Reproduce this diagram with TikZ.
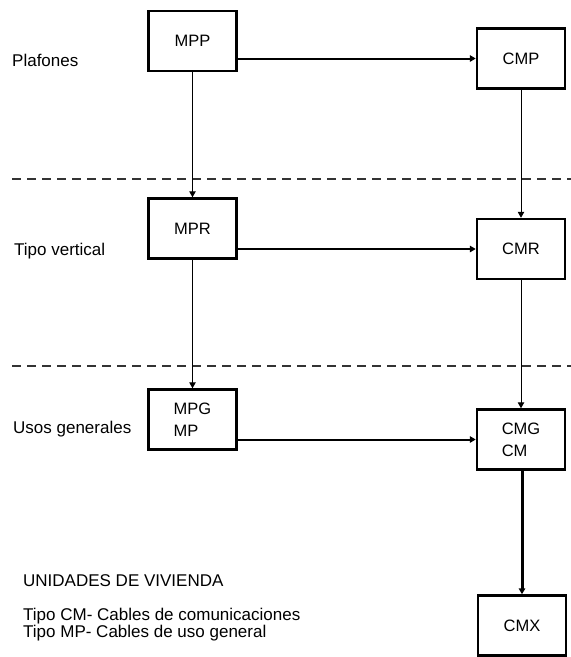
\documentclass[tikz,border=0pt]{standalone}
\usepackage{fontspec}
\setmainfont{Liberation Sans}
\usepackage{tikz}
\usetikzlibrary{arrows.meta}
\usetikzlibrary{positioning}

\tikzset{
  caja/.style={draw, line width=2.5pt, minimum width=88pt, minimum height=60pt, align=left, font=\fontsize{16.5}{22}\selectfont},
  rotulo/.style={anchor=base west, inner sep=0pt, font=\fontsize{17}{20}\selectfont},
  flecha/.style={-{Triangle[length=6pt,width=6.5pt]}},
  separa/.style={line width=1.5pt, black!80, dash pattern=on 9pt off 6pt}
}

\begin{document}
\begin{tikzpicture}[x=1pt,y=-1pt]
          \useasboundingbox (0,0) rectangle (571,657);
          \draw[separa] (12,179) -- (571,179);
          \draw[separa] (12,366) -- (571,366);
          \node[rotulo] (lbl0) at (12,66.5){Plafones};
          \node[rotulo] (lbl1) at (14,255){Tipo vertical};
          \node[rotulo] (lbl2) at (13,433){Usos generales};
          \node[rotulo] (lbl3) at (23,586.5){UNIDADES DE VIVIENDA};
          \node[rotulo] (lbl4) at (23,620){Tipo CM- Cables de comunicaciones};
          \node[rotulo] (lbl5) at (23,637.5){Tipo MP- Cables de uso general};
          \node[caja] (mpp) at (192.5,41){MPP};
          \node[caja] (cmp) at (521,58.5){CMP};
          \node[caja] (mpr) at (192.5,228.5){MPR};
          \node[caja] (cmr) at (521,249){CMR};
          \node[caja] (mpg) at (192.5,419.5){MPG\\MP};
          \node[caja] (cmg) at (521,439.5){CMG\\CM};
          \node[caja] (cmx) at (522,625.5){CMX};
          \draw[flecha, line width=2pt](mpp.east |- cmp.west) -- (cmp.west);
          \draw[flecha, line width=2pt](mpr.east |- cmr.west) -- (cmr.west);
          \draw[flecha, line width=2pt](mpg.east |- cmg.west) -- (cmg.west);
          \draw[flecha, line width=1pt](mpp.south) -- (mpr.north);
          \draw[flecha, line width=1pt](mpr.south) -- (mpg.north);
          \draw[flecha, line width=1pt](cmp.south) -- (cmr.north);
          \draw[flecha, line width=1pt](cmr.south) -- (cmg.north);
          \draw[flecha, line width=3pt](cmx.north |- cmg.south) -- (cmx.north);
        \end{tikzpicture}
\end{document}
